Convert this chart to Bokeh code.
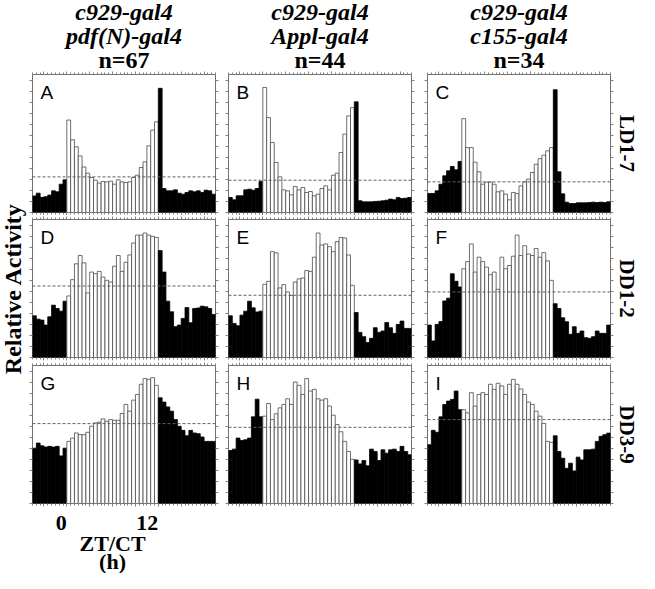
import numpy as np
from math import pi
from bokeh.plotting import figure
from bokeh.models import (Range1d, LinearAxis, SingleIntervalTicker, Span, Label,
                          ColumnDataSource)
from bokeh.layouts import gridplot, column, row
from bokeh.core.properties import value
from bokeh.embed import file_html
from bokeh.resources import INLINE

# ---------------- data ----------------
# 48 half-hour bins from ZT/CT -4.5 h to 19.5 h (bin start times)
bin_start = np.arange(-4.5, 19.5, 0.5)

# relative activity (% of panel height) per bin
act_A = [12, 14, 11, 11.4, 12.6, 15.7, 15, 20.5, 23.7,
         67, 52.7, 47.6, 41, 33, 28.5, 25.4, 23.4, 21.3, 22.5, 22.2, 22.7,
         20.5, 23.7, 22.2, 21.7, 22.2, 25.4, 27, 32.6, 36.7, 48.3, 59.7, 65.7,
         90, 17.4, 15.7, 15.7, 16.4, 14, 13.3, 14.5, 15.7, 15, 15.7, 14.5, 16.2, 15.7, 13.3]
act_B = [10.9, 9.2, 12.1, 12.1, 16.4, 16.9, 16.2, 17.4, 22.5,
         90.6, 68.8, 50.7, 36.2, 25.8, 16.4, 15.7, 12.8, 18.8, 16.4, 18.1, 14.5,
         15.2, 12.1, 13.3, 17.4, 19.3, 16.4, 27, 28.5, 43.5, 56.8, 70, 76,
         80.2, 8.5, 7.7, 7.7, 7.7, 8, 8.2, 8.5, 8.9, 9.7, 9.2, 10.9, 10.1, 10.4, 10.9]
act_C = [13.8, 13.8, 15.7, 20.5, 26.6, 30.2, 33.3, 30.9, 37,
         68, 47, 47, 36.5, 29.5, 20.5, 22, 22, 20.5, 15, 15.7, 13.3,
         9.2, 14.5, 13.8, 19.3, 22.2, 24.2, 29, 35, 39, 41.5, 44.7, 47,
         89, 29.5, 13.5, 7.5, 6.5, 6.5, 7, 7, 7, 7.2, 7.5, 7.2, 7.5, 7.2, 7.8]
act_D = [30.2, 27.8, 27.1, 23.5, 29.5, 37.9, 35.5, 33.6, 40.8,
         44.6, 56.4, 67.9, 73.9, 68.6, 46.8, 61.9, 60.7, 62.4, 58.3, 55.9, 54.7,
         66.2, 73.9, 62.4, 69, 74.3, 83, 88.7, 88.7, 90.2, 88.7, 87.8, 87,
         77.5, 61.9, 40.8, 33.1, 22.3, 23.5, 28.3, 36.2, 25.2, 35.5, 35.9, 37.2, 36.7, 35.5, 31.2]
act_E = [30.2, 24.7, 23, 30.7, 33.6, 40.8, 36, 33, 33.6,
         53, 55.2, 76.7, 75.8, 50.4, 52.8, 47.5, 45, 54.7, 57, 57.6, 63,
         62.4, 72.7, 90.2, 81.5, 82.3, 80.3, 76.7, 84, 87, 86.6, 74.3, 52.3,
         32.6, 18.2, 15.1, 10.8, 13.9, 21.6, 18.2, 19.2, 25.4, 21.6, 17.5, 24, 26.4, 21.1, 21.1]
act_F = [23.5, 12, 24, 26, 41, 43, 60.7, 55.2, 51.1,
         64.3, 69.5, 82.3, 61.9, 72.7, 69.5, 65.5, 60, 61.9, 49.4, 72.7, 64.3,
         66.7, 73.4, 88.7, 73.9, 81, 75, 73.9, 79, 72.7, 76, 70, 55.9,
         39, 35.5, 28.8, 25.9, 16.8, 22.3, 17.5, 19.2, 14.4, 13.9, 15.1, 19.2, 17.5, 17.5, 23.5]
act_G = [40.1, 43.8, 41.8, 40.9, 41.4, 40.9, 41.4, 34.5, 40.1,
         45, 47.4, 51.1, 49.9, 49.9, 51.6, 56, 58.4, 58.9, 61.3, 59.6, 60.8,
         60.3, 60.3, 65.2, 71.8, 66.9, 74.9, 79, 86.4, 90.5, 90, 91.2, 85.6,
         76.6, 73.5, 70, 66.9, 60.8, 56, 53, 49.1, 53, 51.1, 50.6, 48.2, 45, 45, 45]
act_H = [38.4, 39.4, 47.4, 45.7, 46.2, 47.4, 62.8, 75.6, 62.8,
         63.3, 72.5, 60.8, 65, 69.3, 71.8, 75.9, 71.8, 88, 85.6, 79, 90.5,
         81.5, 82.7, 75.9, 74.9, 75.9, 70.6, 64, 57.2, 52, 45, 37.7, 32,
         31.6, 28.7, 31.1, 27.3, 39.4, 37.7, 31.1, 38.9, 36.5, 38.9, 39.4, 37.7, 41.4, 37.7, 35.3]
act_I = [42.6, 53, 51.6, 62.8, 71.8, 74.2, 75.4, 81.5, 68,
         68, 65.7, 80.3, 70.6, 79, 80.3, 79, 86.4, 82.7, 87.1, 85.2, 79,
         86.4, 90, 86.4, 83, 79, 73.5, 71.8, 66.9, 63.3, 58, 45, 44.3,
         49.1, 37.7, 32.8, 25.5, 29.2, 23.6, 33.6, 31.6, 38.9, 38.9, 39.4, 45, 48.7, 49.9, 51]

# daily mean level (dashed line)
mean_level = [25.8, 23.4, 22.2,
              51.8, 45.1, 47.5,
              57.9, 55.2, 60.8]

panel_letters = ["A", "B", "C", "D", "E", "F", "G", "H", "I"]
genotype_line1 = ["c929-gal4", "c929-gal4", "c929-gal4"]
genotype_line2 = ["pdf(N)-gal4", "Appl-gal4", "c155-gal4"]
n_flies = ["n=67", "n=44", "n=34"]
condition_labels = ["LD1-7", "DD1-2", "DD3-9"]
time_ticks = [0, 12]

activity = [act_A, act_B, act_C, act_D, act_E, act_F, act_G, act_H, act_I]

# ---------------- layout (pixels) ----------------
T0, T1 = -4.5, 19.5
FW, FH = 183, 138
col_left = [4, 7, 8]
col_right = [6, 8, 4]
row_top = [3, 4, 4]
row_bottom = [3, 4, 4]
LEFT_W, RIGHT_W = 28, 25
HEAD_H, FOOT_H = 71, 66
TOTAL_W = LEFT_W + sum(col_left) + sum(col_right) + 3 * FW + RIGHT_W
GRID_H = sum(row_top) + sum(row_bottom) + 3 * FH

SERIF = "Liberation Serif"
SANS = "Liberation Sans"
TICK = "#808080"

is_day = [(0 <= s < 12) for s in bin_start]
fills = ["white" if d else "black" for d in is_day]
lines = ["#4a4a4a" if d else "black" for d in is_day]


def add_axis(p, loc, dim):
    if dim == "x":
        ticker = SingleIntervalTicker(interval=3, num_minor_ticks=6)
    else:
        ticker = SingleIntervalTicker(interval=8, num_minor_ticks=0)
    ax = LinearAxis(ticker=ticker)
    ax.axis_line_color = None
    ax.major_tick_line_color = TICK
    ax.minor_tick_line_color = TICK
    ax.major_tick_in = 0
    ax.minor_tick_in = 0
    ax.major_tick_out = 3
    ax.minor_tick_out = 2
    ax.major_label_text_font_size = "0px"
    ax.major_label_text_color = None
    ax.major_label_standoff = 0
    p.add_layout(ax, loc)


def blank_fig(w, h, xr, yr):
    f = figure(width=w, height=h, x_range=xr, y_range=yr,
               min_border=0, min_border_left=0, min_border_right=0,
               min_border_top=0, min_border_bottom=0,
               x_axis_location=None, y_axis_location=None,
               toolbar_location=None, output_backend="svg")
    f.grid.visible = False
    f.outline_line_color = None
    f.background_fill_color = "white"
    f.border_fill_color = "white"
    return f


# frame positions of the three columns (pixels from the left of the content)
col_x0 = []
acc = LEFT_W
for c in range(3):
    col_x0.append(acc + col_left[c])
    acc += col_left[c] + FW + col_right[c]
col_centre = [x0 + FW / 2 for x0 in col_x0]

row_centre = []
acc = 0
for r in range(3):
    row_centre.append(acc + row_top[r] + FH / 2)
    acc += row_top[r] + FH + row_bottom[r]

# ---------------- panels ----------------
figs = []
for r in range(3):
    frow = []
    for c in range(3):
        k = r * 3 + c
        p = figure(frame_width=FW, frame_height=FH,
                   x_range=Range1d(T0, T1), y_range=Range1d(0, 100),
                   min_border_left=col_left[c], min_border_right=col_right[c],
                   min_border_top=row_top[r], min_border_bottom=row_bottom[r],
                   x_axis_location=None, y_axis_location=None,
                   toolbar_location=None, output_backend="svg")
        p.grid.visible = False
        p.outline_line_color = "#707070"
        p.outline_line_width = 1
        p.background_fill_color = "white"
        p.border_fill_color = "white"
        add_axis(p, "above", "x")
        add_axis(p, "below", "x")
        add_axis(p, "left", "y")
        add_axis(p, "right", "y")

        src = ColumnDataSource(dict(x=bin_start + 0.25, top=activity[k],
                                    fill=fills, line=lines))
        p.vbar(x="x", top="top", bottom=0, width=0.5, source=src,
               fill_color="fill", line_color="line", line_width=0.8)
        p.add_layout(Span(location=mean_level[k], dimension="width",
                          line_color="#606060", line_dash="3 2", line_width=1))
        p.add_layout(Label(x=8, y=FH - 7, x_units="screen", y_units="screen",
                           text=panel_letters[k], text_font=SANS,
                           text_font_size="19px", text_baseline="top",
                           text_align="left", text_color="black"))
        frow.append(p)
    figs.append(frow)

grid = gridplot(figs, toolbar_location=None)

# ---------------- header (genotypes, n) ----------------
head = blank_fig(TOTAL_W, HEAD_H, Range1d(0, TOTAL_W), Range1d(HEAD_H, 0))
for txt, yy, style in [(genotype_line1, 11, "bold italic"),
                       (genotype_line2, 35, "bold italic"),
                       (n_flies, 59, "bold")]:
    head.text(x=col_centre, y=[yy] * 3, text=txt,
              text_font=value(SERIF), text_font_style=style,
              text_font_size="24px", text_align="center", text_baseline="middle",
              text_color="black")

# ---------------- left / right side labels ----------------
left = blank_fig(LEFT_W, GRID_H, Range1d(0, LEFT_W), Range1d(GRID_H, 0))
left.text(x=[LEFT_W / 2 - 2], y=[row_centre[1]], text=["Relative Activity"],
          angle=pi / 2, text_font=value(SERIF), text_font_style="bold",
          text_font_size="24px", text_align="center", text_baseline="middle",
          text_color="black")

right = blank_fig(RIGHT_W, GRID_H, Range1d(0, RIGHT_W), Range1d(GRID_H, 0))
right.text(x=[RIGHT_W / 2] * 3, y=row_centre, text=condition_labels, angle=-pi / 2,
           text_font=value(SERIF), text_font_style="bold",
           text_font_size="21px", text_align="center", text_baseline="middle",
           text_color="black")

# ---------------- footer (time axis of the first column) ----------------
px_per_h = FW / (T1 - T0)
f_start = T0 - col_x0[0] / px_per_h
f_end = f_start + TOTAL_W / px_per_h
foot = blank_fig(TOTAL_W, FOOT_H, Range1d(f_start, f_end), Range1d(FOOT_H, 0))
foot.text(x=time_ticks, y=[15] * len(time_ticks), text=[str(t) for t in time_ticks],
          text_font=value(SERIF), text_font_style="bold",
          text_font_size="22px", text_align="right", text_baseline="middle",
          text_color="black")
foot.text(x=[(time_ticks[0] + time_ticks[1]) / 2] * 2, y=[36, 54],
          text=["ZT/CT", "(h)"],
          text_font=value(SERIF), text_font_style="bold",
          text_font_size="22px", text_align="center", text_baseline="middle",
          text_color="black")

layout = column(head, row(left, grid, right), foot)

open("out.html", "w").write(file_html(layout, INLINE))
